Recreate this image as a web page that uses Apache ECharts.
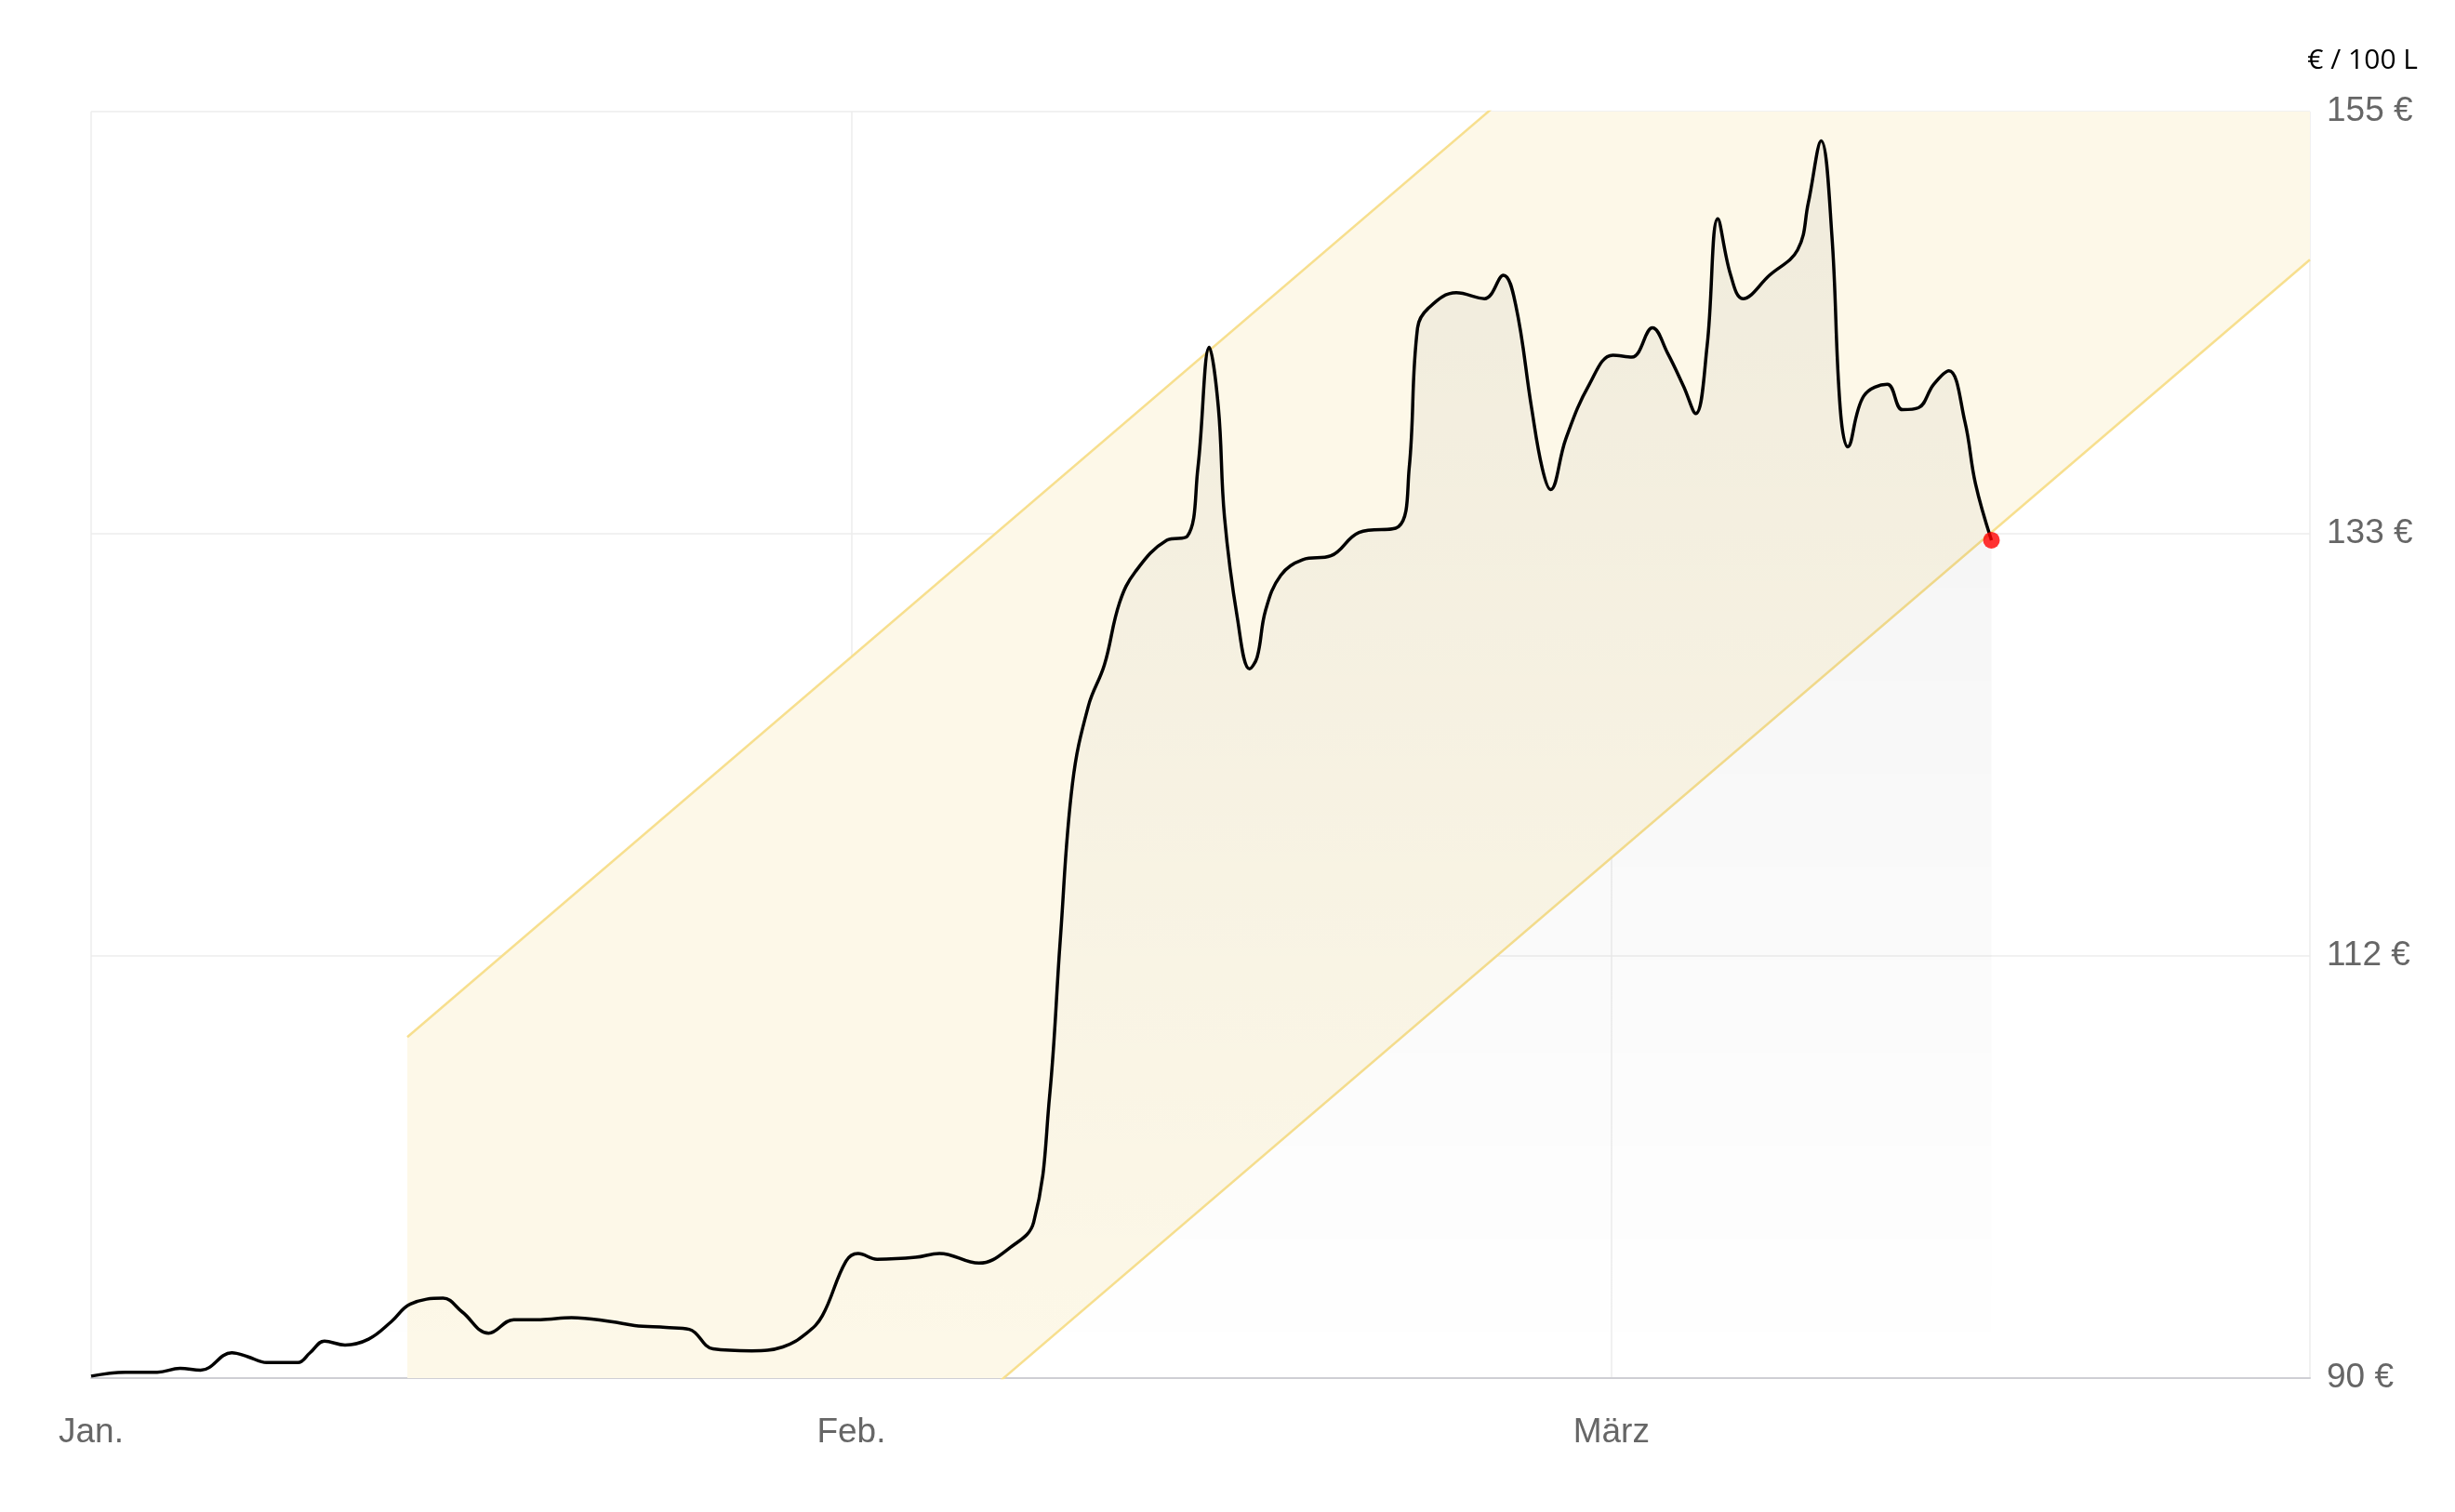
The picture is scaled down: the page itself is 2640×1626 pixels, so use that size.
<!DOCTYPE html>
<html>
<head>
<meta charset="utf-8">
<script src="https://cdn.jsdelivr.net/npm/echarts@6/dist/echarts.min.js"></script>
<style>
html, body { margin: 0; padding: 0; background: #fff; }
#chart { width: 2640px; height: 1626px; }
</style>
</head>
<body>
<div id="chart"></div>
<script>
// x = Monat (0 = Jan., 1 = Feb., 2 = März), y = € / 100 L
var monthLabels = ['Jan.', 'Feb.', 'März'];
var yTicks = [90, 112, 133, 155];
var priceX = [0, 0.045, 0.087, 0.117, 0.144, 0.185, 0.206, 0.231, 0.272, 0.288, 0.307, 0.334, 0.365, 0.395, 0.420,
    0.463, 0.488, 0.523, 0.556, 0.591, 0.632, 0.684, 0.715, 0.756, 0.787, 0.818, 0.869, 0.910, 0.941, 0.962,
    0.993, 1.009, 1.034, 1.085, 1.116, 1.168, 1.209, 1.240, 1.261, 1.275, 1.291, 1.312, 1.333, 1.353, 1.374,
    1.415, 1.442, 1.456, 1.471, 1.483, 1.491, 1.508, 1.524, 1.534, 1.545, 1.565, 1.594, 1.631, 1.668, 1.720,
    1.734, 1.745, 1.759, 1.796, 1.833, 1.858, 1.874, 1.895, 1.909, 1.920, 1.940, 1.971, 2.002, 2.027, 2.054,
    2.074, 2.095, 2.111, 2.126, 2.140, 2.157, 2.173, 2.208, 2.245, 2.259, 2.276, 2.290, 2.301, 2.311, 2.332,
    2.363, 2.383, 2.404, 2.424, 2.444, 2.465, 2.479, 2.500];
var priceY = [90.1, 90.3, 90.3, 90.5, 90.4, 91.3, 91.1, 90.8, 90.8, 91.3, 91.9, 91.7, 92.0, 92.9, 93.8,
    94.1, 93.4, 92.3, 93.0, 93.0, 93.1, 92.9, 92.7, 92.6, 92.5, 91.5, 91.4, 91.6, 92.3, 93.2,
    96.0, 96.4, 96.1, 96.2, 96.4, 95.9, 96.7, 98.0, 104.5, 112.5, 120.5, 124.5, 126.6, 129.8, 131.4,
    133.0, 133.2, 136.7, 142.9, 139.8, 134.2, 129.0, 126.4, 127.0, 129.4, 131.2, 132.0, 132.2, 133.4, 133.7,
    136.7, 143.9, 144.9, 145.7, 145.4, 146.6, 145.1, 139.8, 136.7, 135.6, 138.2, 141.0, 142.5, 142.4, 143.9,
    142.6, 140.9, 139.5, 143.0, 149.5, 146.6, 145.4, 146.6, 147.9, 150.3, 153.5, 148.7, 139.8, 137.8, 140.4,
    141.0, 139.7, 139.8, 141.0, 141.7, 139.1, 135.9, 133.0];
// Trendkanal: untere Linie und Kanalbreite
var bandX = [0.416, 2.919];
var bandLow = [63.8, 147.4];
var bandWidth = [43.7, 43.7];

var yMin = 90, yMax = 155;
var xMax = 2.919;

function shift(v) { return v - yMin; }
var priceData = priceX.map(function (x, i) { return [x, shift(priceY[i])]; });
var lowData = bandX.map(function (x, i) { return [x, shift(bandLow[i])]; });
var highData = bandX.map(function (x, i) { return [x, shift(bandLow[i] + bandWidth[i])]; });
var last = priceData[priceData.length - 1];

var bandLine = { color: '#f7df8e', width: 2.5 };

var option = {
    animation: false,
    grid: { left: 98, right: 156, top: 120, bottom: 144 },
    graphic: [{
        type: 'text', right: 40, top: 50,
        style: { text: '€ / 100 L', font: '30px "Open Sans"', fill: '#000' }
    }],
    xAxis: {
        type: 'value', min: 0, max: xMax, interval: 1,
        axisLine: { show: true, lineStyle: { color: '#cfcfd4', width: 2 } },
        axisTick: { show: false },
        splitLine: { show: true, lineStyle: { color: '#ececec', width: 1.5 } },
        axisLabel: {
            color: '#666', fontSize: 37, fontFamily: 'Liberation Sans', margin: 40,
            showMaxLabel: false,
            formatter: function (v) { return Number.isInteger(v) ? monthLabels[v] : ''; }
        }
    },
    yAxis: {
        type: 'value', position: 'right', min: 0, max: yMax - yMin, interval: (yMax - yMin) / 3,
        axisLine: { show: false },
        axisTick: { show: false },
        splitLine: { lineStyle: { color: '#ececec', width: 1.5 } },
        axisLabel: {
            color: '#666', fontSize: 37, fontFamily: 'Liberation Sans', margin: 18,
            formatter: function (v) { return yTicks[Math.round(v / ((yMax - yMin) / 3))] + ' €'; }
        }
    },
    series: [
        {
            type: 'custom', data: [0], clip: true, z: 1, silent: true,
            renderItem: function (params, api) {
                var pts = [];
                highData.forEach(function (d) { pts.push(api.coord(d)); });
                for (var i = lowData.length - 1; i >= 0; i--) pts.push(api.coord(lowData[i]));
                return { type: 'polygon', shape: { points: pts }, style: { fill: '#fdf8e8' } };
            }
        },
        { type: 'line', data: lowData, symbol: 'none', lineStyle: bandLine, z: 2 },
        { type: 'line', data: highData, symbol: 'none', lineStyle: bandLine, z: 2 },
        {
            type: 'line', data: priceData, smooth: 0.4, symbol: 'none',
            lineStyle: { color: '#000', width: 3.5 },
            areaStyle: {
                color: new echarts.graphic.LinearGradient(0, 0, 0, 1, [
                    { offset: 0, color: 'rgba(0,0,0,0.075)' },
                    { offset: 1, color: 'rgba(0,0,0,0.0)' }
                ])
            },
            z: 3
        },
        {
            type: 'scatter', data: [last], symbolSize: 18,
            itemStyle: { color: '#ff0000' }, z: 4
        }
    ]
};

var myChart = echarts.init(document.getElementById('chart'));
myChart.setOption(option);
</script>
</body>
</html>
